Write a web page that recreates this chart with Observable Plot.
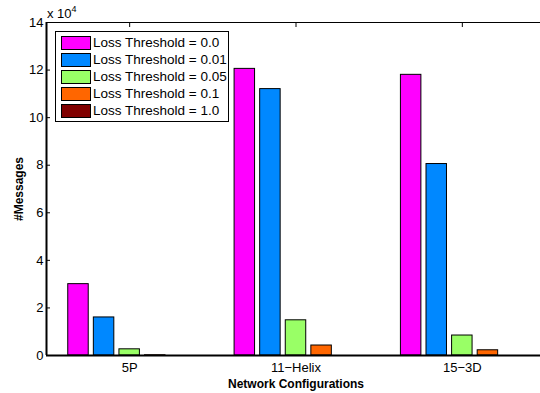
<!DOCTYPE html>
<html>
<head>
<meta charset="utf-8">
<script src="https://cdn.jsdelivr.net/npm/d3@7"></script>
<script src="https://cdn.jsdelivr.net/npm/@observablehq/plot@0.6"></script>
<style>
  html, body { margin: 0; padding: 0; background: #fff; overflow: hidden; }
  #wrap { position: relative; width: 540px; height: 393px; overflow: hidden; font-family: "Liberation Sans", Arial, Helvetica, sans-serif; }
  #wrap svg { position: absolute; left: 0; top: 0; max-width: none !important; }
  g[aria-label="x-axis label"] text, g[aria-label="y-axis label"] text { font-weight: bold; font-size: 12px; }
  #legend { position: absolute; left: 55px; top: 31px; width: 172px; height: 89px; border: 1.5px solid #000; background: #fff; font-size: 13.5px; white-space: nowrap; }
  #legend .row { position: absolute; left: 5px; height: 17px; display: flex; align-items: center; }
  #legend .sw { width: 28px; height: 12px; border: 1px solid #000; margin-right: 2px; flex: none; }
  #exp { position: absolute; left: 47px; top: 4px; font-size: 13px; }
  #exp sup { font-size: 9px; vertical-align: 6px; }
</style>
</head>
<body>
<div id="wrap"></div>
<script>
// ---- data ----
const groups = ["5P", "11\u2212Helix", "15\u22123D"];
const thresholds = ["0.0", "0.01", "0.05", "0.1", "1.0"];
const colors = ["#ff00ff", "#0088ff", "#99ff66", "#ff6600", "#800000"];
const loss_0_0  = [30000, 120500, 118000];
const loss_0_01 = [16000, 112000, 80500];
const loss_0_05 = [2600, 14800, 8400];
const loss_0_1  = [100, 4200, 2200];
const loss_1_0  = [0, 0, 0];
const yTicks = [0, 20000, 40000, 60000, 80000, 100000, 120000, 140000];

const series = [loss_0_0, loss_0_01, loss_0_05, loss_0_1, loss_1_0];
const nS = series.length;
const groupWidth = Math.min(0.8, nS / (nS + 1.5));
const step = groupWidth / nS;
const barW = step * 0.8;
const rows = [];
series.forEach((vals, j) => vals.forEach((v, i) => {
  const c = (i + 1) + (j - (nS - 1) / 2) * step;
  rows.push({group: groups[i], threshold: thresholds[j], value: v, x1: c - barW / 2, x2: c + barW / 2});
}));
const xDomain = [0.5, groups.length + 0.5];
const blank = () => "";

const chart = Plot.plot({
  width: 545,
  height: 393,
  marginLeft: 46,
  marginRight: 0,
  marginTop: 22,
  marginBottom: 38,
  style: {fontFamily: "Liberation Sans, Arial, Helvetica, sans-serif", fontSize: "13px", background: "#fff", maxWidth: "none"},
  x: {domain: xDomain},
  y: {domain: [0, 140000]},
  color: {domain: thresholds, range: colors},
  marks: [
    Plot.rectY(rows, {x1: "x1", x2: "x2", y: "value", fill: "threshold", stroke: "#000", strokeWidth: 1}),
    Plot.axisX({ticks: [1, 2, 3], tickFormat: d => groups[d - 1], tickSize: 0, tickPadding: 7, fontSize: 13,
      label: "Network Configurations", labelAnchor: "center", labelOffset: 32, labelArrow: "none"}),
    Plot.axisX({anchor: "top", ticks: [1, 2, 3], tickFormat: blank, tickSize: -4, label: null}),
    Plot.axisY({ticks: yTicks, tickFormat: d => d / 10000, tickSize: -4, tickPadding: 7, fontSize: 13,
      label: "#Messages", labelAnchor: "center", labelOffset: 32, labelArrow: "none"}),
    Plot.axisY({anchor: "right", ticks: yTicks, tickFormat: blank, tickSize: -4, stroke: "#999", label: null}),
    Plot.ruleY([140000], {stroke: "#000", strokeWidth: 1}),
    Plot.ruleY([0], {stroke: "#000", strokeWidth: 2}),
    Plot.ruleX([xDomain[0]], {stroke: "#000", strokeWidth: 2})
  ]
});

const wrap = document.getElementById("wrap");
wrap.appendChild(chart);

const exp = document.createElement("div");
exp.id = "exp";
exp.innerHTML = "x 10<sup>4</sup>";
wrap.appendChild(exp);

const legend = document.createElement("div");
legend.id = "legend";
thresholds.forEach((t, j) => {
  const r = document.createElement("div");
  r.className = "row";
  r.style.top = (2 + j * 17) + "px";
  const sw = document.createElement("div");
  sw.className = "sw";
  sw.style.background = colors[j];
  const tx = document.createElement("span");
  tx.textContent = "Loss Threshold = " + t;
  r.appendChild(sw);
  r.appendChild(tx);
  legend.appendChild(r);
});
wrap.appendChild(legend);
</script>
</body>
</html>
